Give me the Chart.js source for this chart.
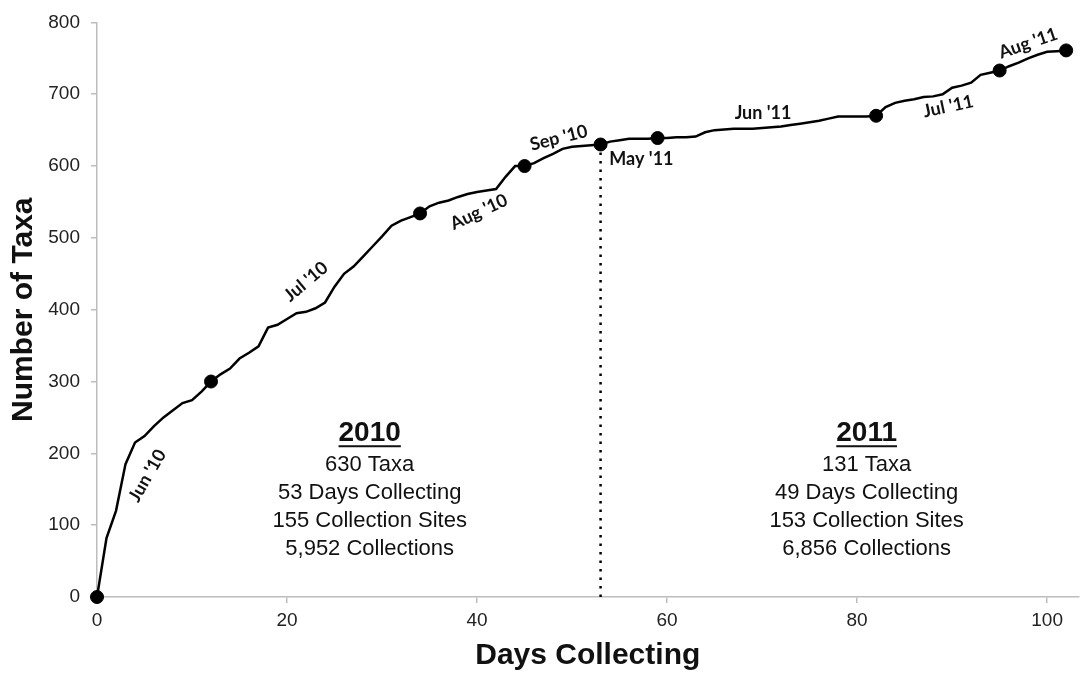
<!DOCTYPE html>
<html>
<head>
<meta charset="utf-8">
<script src="https://cdn.jsdelivr.net/npm/chart.js@4.4.1/dist/chart.umd.min.js"></script>
<style>
    body { margin: 0; background: #ffffff; }
    #wrap { width: 1086px; height: 674px; }
</style>
</head>
<body>
<div id="wrap"><canvas id="taxaChart" width="1086" height="674"></canvas></div>
<script>
// cumulative taxa per collecting day (day 0..53 = 2010, day 54..102 = 2011)
const days = [
    0, 1, 2, 3, 4, 5, 6, 7, 8, 9, 10, 11, 12, 13, 14, 15, 16, 17, 18, 19,
    20, 21, 22, 23, 24, 25, 26, 27, 28, 29, 30, 31, 32, 33, 34, 35, 36, 37, 38, 39,
    40, 41, 42, 43, 44, 45, 46, 47, 48, 49, 50, 51, 52, 53, 54, 55, 56, 57, 58, 59,
    60, 61, 62, 63, 64, 65, 66, 67, 68, 69, 70, 71, 72, 73, 74, 75, 76, 77, 78, 79,
    80, 81, 82, 83, 84, 85, 86, 87, 88, 89, 90, 91, 92, 93, 94, 95, 96, 97, 98, 99,
    100, 101, 102
];
const taxa = [
    0, 82, 120, 185, 215, 224, 238, 250, 260, 270, 274, 286, 300, 310, 318, 332, 340, 349, 375, 379,
    387, 395, 397, 402, 410, 432, 450, 460, 474, 488, 502, 517, 524, 529, 534, 544, 549, 552, 557, 561,
    564, 566, 568, 585, 600, 600, 604, 611, 617, 624, 627, 628, 629, 630, 634, 636, 638, 638, 638, 639,
    639, 640, 640, 641, 647, 650, 651, 652, 652, 652, 653, 654, 655, 657, 659, 661, 663, 666, 669, 669,
    669, 669, 670, 682, 688, 691, 693, 696, 697, 700, 709, 712, 716, 727, 730, 733, 739, 744, 750, 755,
    759, 760, 761
];
// first day of each month gets a dot
const monthStartDays = [0, 12, 34, 45, 53, 59, 82, 95, 102];
const monthNames = ["Jun '10", "Jul '10", "Aug '10", "Sep '10", "May '11", "Jun '11", "Jul '11", "Aug '11"];
const yearSplitDay = 53;
const yearSplitTop = 622;
const xTicks = [0, 20, 40, 60, 80, 100];
const yTicks = [0, 100, 200, 300, 400, 500, 600, 700, 800];
const years = ["2010", "2011"];
const stats2010 = ["630 Taxa", "53 Days Collecting", "155 Collection Sites", "5,952 Collections"];
const stats2011 = ["131 Taxa", "49 Days Collecting", "153 Collection Sites", "6,856 Collections"];

// where the month names sit (data units) and how they are turned
const monthLabelPlaces = [
    { x: 5.3, y: 169, angle: -60 },
    { x: 22, y: 439, angle: -40 },
    { x: 40.2, y: 536, angle: -25 },
    { x: 48.6, y: 639, angle: -14 },
    { x: 57.3, y: 609, angle: 0 },
    { x: 70.1, y: 674, angle: 0 },
    { x: 89.6, y: 683, angle: -12 },
    { x: 98, y: 771, angle: -19 },
];
const yearBlockPlaces = [{ x: 28.7, y: 228 }, { x: 81, y: 228 }];

const font = "'Liberation Sans', Arial, sans-serif";

const linePoints = days.map((d, i) => ({ x: d, y: taxa[i] }));
const dotPoints = monthStartDays.map(d => ({ x: d, y: taxa[days.indexOf(d)] }));
const splitPoints = [{ x: yearSplitDay, y: 0 }, { x: yearSplitDay, y: yearSplitTop }];

const annotations = {
    id: "annotations",
    afterDatasetsDraw(chart) {
        const ctx = chart.ctx;
        const xs = chart.scales.x;
        const ys = chart.scales.y;
        ctx.save();
        ctx.fillStyle = "#111";
        ctx.textAlign = "center";
        ctx.textBaseline = "middle";
        // month names along the curve
        ctx.font = "bold 18px Lato, 'Open Sans', sans-serif";
        monthNames.forEach((name, i) => {
            const p = monthLabelPlaces[i];
            ctx.save();
            ctx.translate(xs.getPixelForValue(p.x), ys.getPixelForValue(p.y));
            ctx.rotate(p.angle * Math.PI / 180);
            ctx.fillText(name, 0, 0);
            ctx.restore();
        });
        // year summary blocks
        [stats2010, stats2011].forEach((lines, i) => {
            const cx = xs.getPixelForValue(yearBlockPlaces[i].x);
            const cy = ys.getPixelForValue(yearBlockPlaces[i].y);
            ctx.font = "bold 28px " + font;
            ctx.fillText(years[i], cx, cy);
            const w = ctx.measureText(years[i]).width;
            ctx.fillRect(cx - w / 2, cy + 12, w, 2);
            ctx.font = "22px " + font;
            lines.forEach((t, j) => ctx.fillText(t, cx, cy + 32 + j * 28));
        });
        ctx.restore();
    }
};

const ctxTaxa = document.getElementById("taxaChart");
const configTaxa = {
    type: "scatter",
    data: {
        datasets: [
            {
                label: "Number of Taxa",
                data: linePoints,
                showLine: true,
                borderColor: "#000",
                borderWidth: 2.5,
                pointRadius: 0,
                tension: 0,
                clip: false,
                order: 2,
            },
            {
                label: "Month start",
                data: dotPoints,
                showLine: false,
                pointRadius: 6.5,
                pointBackgroundColor: "#000",
                pointBorderColor: "#000",
                clip: false,
                order: 1,
            },
            {
                label: "Year split",
                data: splitPoints,
                showLine: true,
                borderColor: "#000",
                borderWidth: 2.5,
                borderDash: [2.5, 6],
                pointRadius: 0,
                order: 3,
            },
        ],
    },
    options: {
        responsive: false,
        animation: false,
        layout: { padding: { top: 17, right: 0, left: 0, bottom: 0 } },
        plugins: {
            legend: { display: false },
            tooltip: { enabled: false },
        },
        scales: {
            x: {
                type: "linear",
                min: 0,
                max: 103.3,
                afterBuildTicks: scale => { scale.ticks = xTicks.map(v => ({ value: v })); },
                afterFit: scale => { scale.height = 77; },
                ticks: { color: "#222", font: { family: font, size: 19 }, padding: 6 },
                grid: { drawOnChartArea: false, tickLength: 6, color: "#bdbdbd", lineWidth: 1.5 },
                border: { color: "#bdbdbd", width: 1.5 },
                title: {
                    display: true,
                    text: "Days Collecting",
                    color: "#111",
                    font: { family: font, size: 30, weight: "bold" },
                    padding: { top: 0, bottom: 0 },
                },
            },
            y: {
                min: 0,
                max: 800,
                afterBuildTicks: scale => { scale.ticks = yTicks.map(v => ({ value: v })); },
                afterFit: scale => { scale.width = 97; },
                ticks: { color: "#222", font: { family: font, size: 19 }, padding: 11 },
                grid: { drawOnChartArea: false, tickLength: 6, color: "#bdbdbd", lineWidth: 1.5 },
                border: { color: "#bdbdbd", width: 1.5 },
                title: {
                    display: true,
                    text: "Number of Taxa",
                    color: "#111",
                    font: { family: font, size: 30, weight: "bold" },
                    padding: { top: 6, bottom: 0 },
                },
            },
        },
    },
    plugins: [annotations],
};
new Chart(ctxTaxa, configTaxa);
</script>
</body>
</html>
